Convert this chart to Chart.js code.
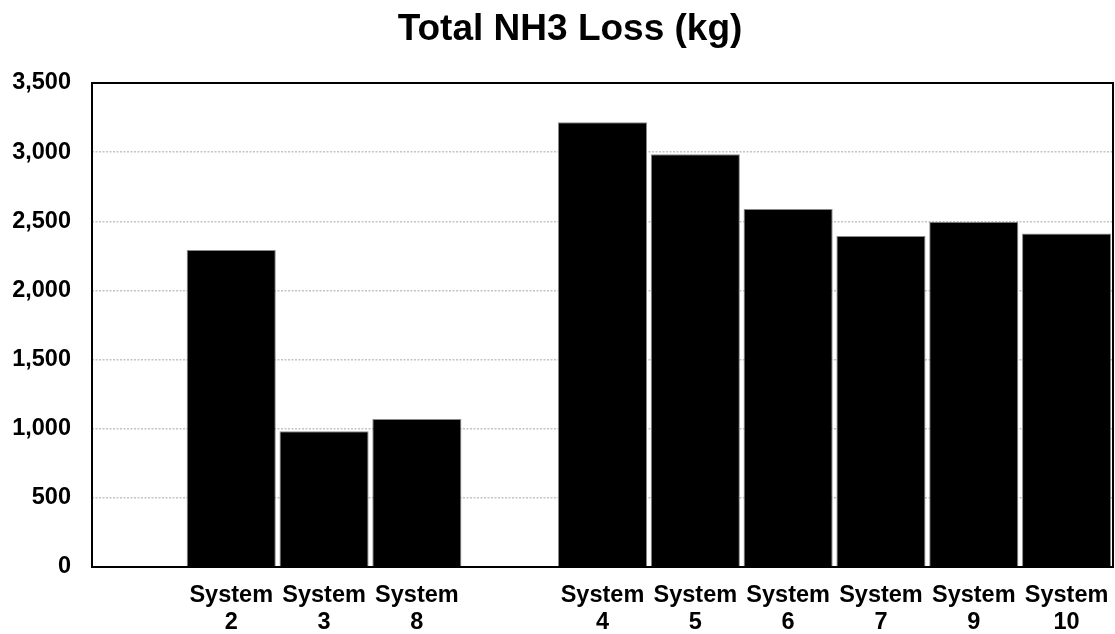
<!DOCTYPE html>
<html>
<head>
<meta charset="utf-8">
<title>Total NH3 Loss (kg)</title>
<script src="https://cdn.jsdelivr.net/npm/chart.js@4/dist/chart.umd.min.js"></script>
<style>
  html, body { margin: 0; padding: 0; background: #ffffff; }
  #wrap { width: 1115px; height: 634px; position: relative; }
</style>
</head>
<body>
<div id="wrap"><canvas id="c"></canvas></div>
<script>
// Categories: blank slots separate the two groups of systems
const categories = ["", "System 2", "System 3", "System 8", "", "System 4", "System 5", "System 6", "System 7", "System 9", "System 10"];
// Total NH3 loss per system (kg)
const nh3Loss = [null, 2292, 981, 1070, null, 3216, 2985, 2588, 2393, 2496, 2412];
// Value axis ticks
const yTicks = [0, 500, 1000, 1500, 2000, 2500, 3000, 3500];
const chartTitle = 'Total NH3 Loss (kg)';

const FONT = "'Liberation Sans', Arial, sans-serif";

// Chart title, centred over the plot region
const titleText = {
  id: 'titleText',
  afterDraw(chart) {
    const { ctx } = chart;
    ctx.save();
    ctx.fillStyle = '#000000';
    ctx.font = `bold 37px ${FONT}`;
    ctx.textAlign = 'center';
    ctx.textBaseline = 'alphabetic';
    ctx.fillText(chartTitle, 570, 40);
    ctx.restore();
  }
};

// Frame around the plot area
const frame = {
  id: 'frame',
  afterDatasetsDraw(chart) {
    const { ctx, chartArea: a } = chart;
    ctx.save();
    ctx.strokeStyle = '#000000';
    ctx.lineWidth = 2;
    ctx.strokeRect(a.left, a.top, a.right - a.left, a.bottom - a.top);
    ctx.restore();
  }
};

new Chart(document.getElementById('c'), {
  type: 'bar',
  data: {
    labels: categories.map(c => c === "" ? "" : c.split(" ")),
    datasets: [{
      data: nh3Loss,
      backgroundColor: '#000000',
      borderColor: '#8a8a8a',
      borderWidth: 1,
      barPercentage: 0.96,
      categoryPercentage: 1.0
    }]
  },
  options: {
    responsive: true,
    maintainAspectRatio: false,
    animation: false,
    layout: { padding: { left: 0, right: 2, top: 83, bottom: 0 } },
    plugins: {
      legend: { display: false },
      tooltip: { enabled: false },
      title: { display: false }
    },
    scales: {
      x: {
        grid: { display: false, drawTicks: true, tickLength: 15 },
        border: { display: false },
        ticks: {
          color: '#000000',
          font: { family: FONT, size: 23.5, weight: 'bold', lineHeight: 1.15 },
          padding: 0,
          maxRotation: 0,
          autoSkip: false
        },
        afterFit(scale) { scale.height = 67; }
      },
      y: {
        min: 0,
        max: 3500,
        afterBuildTicks(scale) { scale.ticks = yTicks.map(v => ({ value: v })); },
        grid: {
          color: '#c4c4c4',
          lineWidth: 1.5,
          drawTicks: false
        },
        border: { display: false, dash: [2, 1.5] },
        ticks: {
          color: '#000000',
          font: { family: FONT, size: 23.5, weight: 'bold' },
          padding: 21,
          callback: v => Number(v).toLocaleString('en-US')
        },
        afterFit(scale) { scale.width = 92; }
      }
    }
  },
  plugins: [frame, titleText]
});
</script>
</body>
</html>
